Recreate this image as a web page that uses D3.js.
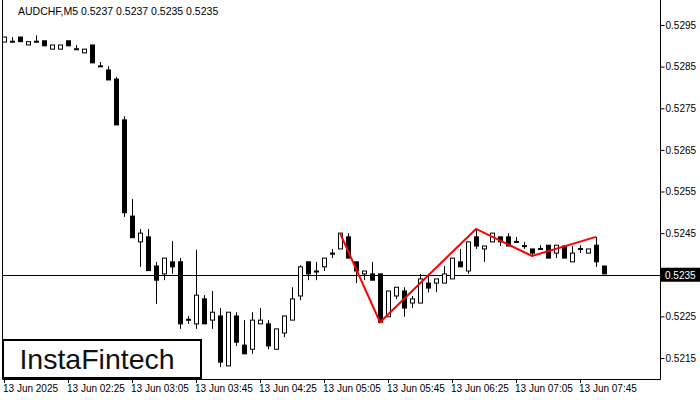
<!DOCTYPE html>
<html>
<head>
<meta charset="utf-8">
<script src="https://cdn.jsdelivr.net/npm/d3@7"></script>
<style>
  body { margin: 0; background: #fff; }
  text { font-family: "Liberation Sans", Arial, sans-serif; }
</style>
</head>
<body>
<div id="chart"></div>
<script>
// Candle data (M5, from 13 Jun 01:45)
var opens = [0.52909,0.52910,0.52921,0.52902,0.52910,0.52912,0.52892,0.52892,0.52912,0.52892,
  0.52883,0.52902,0.52851,0.52842,0.52820,0.52722,0.52491,0.52429,0.52441,0.52371,
  0.52352,0.52381,0.52381,0.52241,0.52232,0.52292,0.52241,0.52251,0.52131,0.52251,
  0.52181,0.52171,0.52232,0.52232,0.52171,0.52210,0.52241,0.52299,0.52381,0.52359,
  0.52369,0.52402,0.52412,0.52441,0.52381,0.52352,0.52352,0.52352,0.52249,0.52299,
  0.52311,0.52282,0.52282,0.52330,0.52330,0.52330,0.52340,0.52381,0.52359,0.52441,
  0.52412,0.52429,0.52441,0.52441,0.52429,0.52419,0.52412,0.52412,0.52421,0.52402,
  0.52419,0.52381,0.52412,0.52402,0.52421,0.52371];
var highs = [0.52921,0.52921,0.52921,0.52910,0.52925,0.52912,0.52902,0.52902,0.52912,0.52902,
  0.52892,0.52902,0.52861,0.52851,0.52825,0.52731,0.52532,0.52460,0.52460,0.52381,
  0.52390,0.52431,0.52390,0.52251,0.52410,0.52301,0.52311,0.52270,0.52260,0.52260,
  0.52241,0.52260,0.52270,0.52241,0.52220,0.52251,0.52320,0.52373,0.52381,0.52381,
  0.52390,0.52412,0.52450,0.52450,0.52381,0.52359,0.52381,0.52352,0.52311,0.52320,
  0.52320,0.52299,0.52352,0.52352,0.52340,0.52371,0.52390,0.52412,0.52429,0.52460,
  0.52419,0.52450,0.52441,0.52450,0.52441,0.52429,0.52412,0.52421,0.52421,0.52421,
  0.52421,0.52419,0.52421,0.52412,0.52441,0.52371];
var lows = [0.52909,0.52910,0.52910,0.52902,0.52910,0.52900,0.52892,0.52892,0.52900,0.52892,
  0.52883,0.52859,0.52851,0.52818,0.52710,0.52489,0.52439,0.52369,0.52360,0.52280,
  0.52337,0.52352,0.52220,0.52232,0.52220,0.52232,0.52220,0.52128,0.52131,0.52179,
  0.52160,0.52160,0.52232,0.52171,0.52171,0.52200,0.52241,0.52289,0.52337,0.52337,
  0.52359,0.52390,0.52412,0.52390,0.52330,0.52337,0.52337,0.52236,0.52249,0.52292,
  0.52249,0.52270,0.52282,0.52308,0.52308,0.52330,0.52340,0.52369,0.52352,0.52412,
  0.52381,0.52429,0.52419,0.52419,0.52429,0.52412,0.52393,0.52412,0.52390,0.52390,
  0.52390,0.52381,0.52402,0.52402,0.52369,0.52352];
var closes = [0.52921,0.52911,0.52910,0.52910,0.52911,0.52900,0.52902,0.52902,0.52900,0.52893,
  0.52892,0.52859,0.52852,0.52818,0.52710,0.52499,0.52439,0.52450,0.52360,0.52337,
  0.52390,0.52369,0.52232,0.52243,0.52301,0.52232,0.52260,0.52140,0.52260,0.52188,
  0.52160,0.52241,0.52241,0.52179,0.52220,0.52251,0.52292,0.52369,0.52352,0.52358,
  0.52390,0.52401,0.52450,0.52390,0.52359,0.52359,0.52337,0.52236,0.52311,0.52320,
  0.52270,0.52292,0.52340,0.52318,0.52340,0.52352,0.52390,0.52369,0.52429,0.52419,
  0.52419,0.52450,0.52429,0.52419,0.52430,0.52420,0.52402,0.52413,0.52390,0.52421,
  0.52390,0.52402,0.52413,0.52412,0.52381,0.52352];

var timeTickIndex = [0, 8, 16, 24, 32, 40, 48, 56, 64, 72];
var timeTickLabels = ["13 Jun 2025", "13 Jun 02:25", "13 Jun 03:05", "13 Jun 03:45", "13 Jun 04:25",
  "13 Jun 05:05", "13 Jun 05:45", "13 Jun 06:25", "13 Jun 07:05", "13 Jun 07:45"];
var priceTicks = [0.5215, 0.5225, 0.5235, 0.5245, 0.5255, 0.5265, 0.5275, 0.5285, 0.5295];
var currentPrice = 0.5235;

// Pattern line (index, price)
var patternIdx = [42, 47, 59, 66, 74];
var patternPrice = [0.52450, 0.52236, 0.52460, 0.52395, 0.52441];

var svgWidth = 700, svgHeight = 400;
var plot = { left: 2, right: 660, top: 0, bottom: 379 };

var candles = opens.map(function(o, i) {
  return { i: i, o: o, h: highs[i], l: lows[i], c: closes[i] };
});

var svg = d3.select("#chart").append("svg")
  .attr("width", svgWidth).attr("height", svgHeight);

var x = d3.scaleLinear().domain([0, 75]).range([4, 604]);
var y = d3.scaleLinear().domain([0.5215, 0.5295]).range([358, 25]);

// frame
svg.append("path")
  .attr("d", `M${plot.left + 0.5},${plot.top}V${plot.bottom + 0.5}H${plot.right + 0.5}V${plot.top}`)
  .attr("fill", "none").attr("stroke", "#000").attr("stroke-width", 1);

// price axis
var rightAxis = d3.axisRight(y).tickValues(priceTicks).tickSize(4).tickFormat(d3.format(".4f"));
var ga = svg.append("g").attr("transform", `translate(${plot.right + 0.5},0)`).call(rightAxis);
ga.select(".domain").remove();
ga.selectAll("text").attr("font-size", 10).attr("fill", "#000").attr("x", 5)
  .attr("font-family", "Liberation Sans, Arial, sans-serif");

// time axis
var gt = svg.append("g");
gt.selectAll("line").data(timeTickIndex).enter().append("line")
  .attr("x1", d => Math.round(x(d)) + 0.5).attr("x2", d => Math.round(x(d)) + 0.5)
  .attr("y1", plot.bottom).attr("y2", plot.bottom + 4).attr("stroke", "#000");
gt.selectAll("text").data(timeTickIndex).enter().append("text")
  .attr("x", d => x(d) - 1).attr("y", plot.bottom + 13)
  .attr("font-size", 10).text((d, k) => timeTickLabels[k]);

// current price line
svg.append("line")
  .attr("x1", plot.left).attr("x2", plot.right)
  .attr("y1", Math.round(y(currentPrice)) + 0.5).attr("y2", Math.round(y(currentPrice)) + 0.5)
  .attr("stroke", "#000");

// candles
var g = svg.append("g");
g.selectAll(".wick").data(candles).enter().append("line")
  .attr("x1", d => Math.round(x(d.i)) + 0.5).attr("x2", d => Math.round(x(d.i)) + 0.5)
  .attr("y1", d => y(d.h)).attr("y2", d => y(d.l))
  .attr("stroke", "#000");
g.selectAll(".body").data(candles).enter().append("rect")
  .attr("x", d => Math.round(x(d.i)) - 2 + 0.5)
  .attr("y", d => y(Math.max(d.o, d.c)))
  .attr("width", 4)
  .attr("height", d => Math.max(1, Math.abs(y(d.o) - y(d.c))))
  .attr("fill", d => d.c >= d.o ? "#fff" : "#000")
  .attr("stroke", "#000");

// pattern
svg.append("path")
  .datum(patternIdx.map((d, k) => [d, patternPrice[k]]))
  .attr("d", d3.line().x(d => x(d[0])).y(d => y(d[1])))
  .attr("fill", "none").attr("stroke", "#f00").attr("stroke-width", 2);

// current price label
svg.append("rect").attr("x", plot.right + 1).attr("y", y(currentPrice) - 7)
  .attr("width", 39).attr("height", 14).attr("fill", "#000");
svg.append("text").attr("x", plot.right + 5).attr("y", y(currentPrice) + 4)
  .attr("font-size", 10).attr("fill", "#fff").text(d3.format(".4f")(currentPrice));

// header
svg.append("text").attr("x", 18).attr("y", 15).attr("font-size", 10.5)
  .text("AUDCHF,M5  0.5237 0.5237 0.5235 0.5235");

// logo
svg.append("rect").attr("x", 3).attr("y", 340).attr("width", 198).attr("height", 38)
  .attr("fill", "#fff").attr("stroke", "#000").attr("stroke-width", 2);
svg.append("text").attr("x", 97).attr("y", 369).attr("text-anchor", "middle")
  .attr("font-family", "Roboto, sans-serif").attr("font-size", 28.5).attr("fill", "#111")
  .text("InstaFintech");
</script>
</body>
</html>
